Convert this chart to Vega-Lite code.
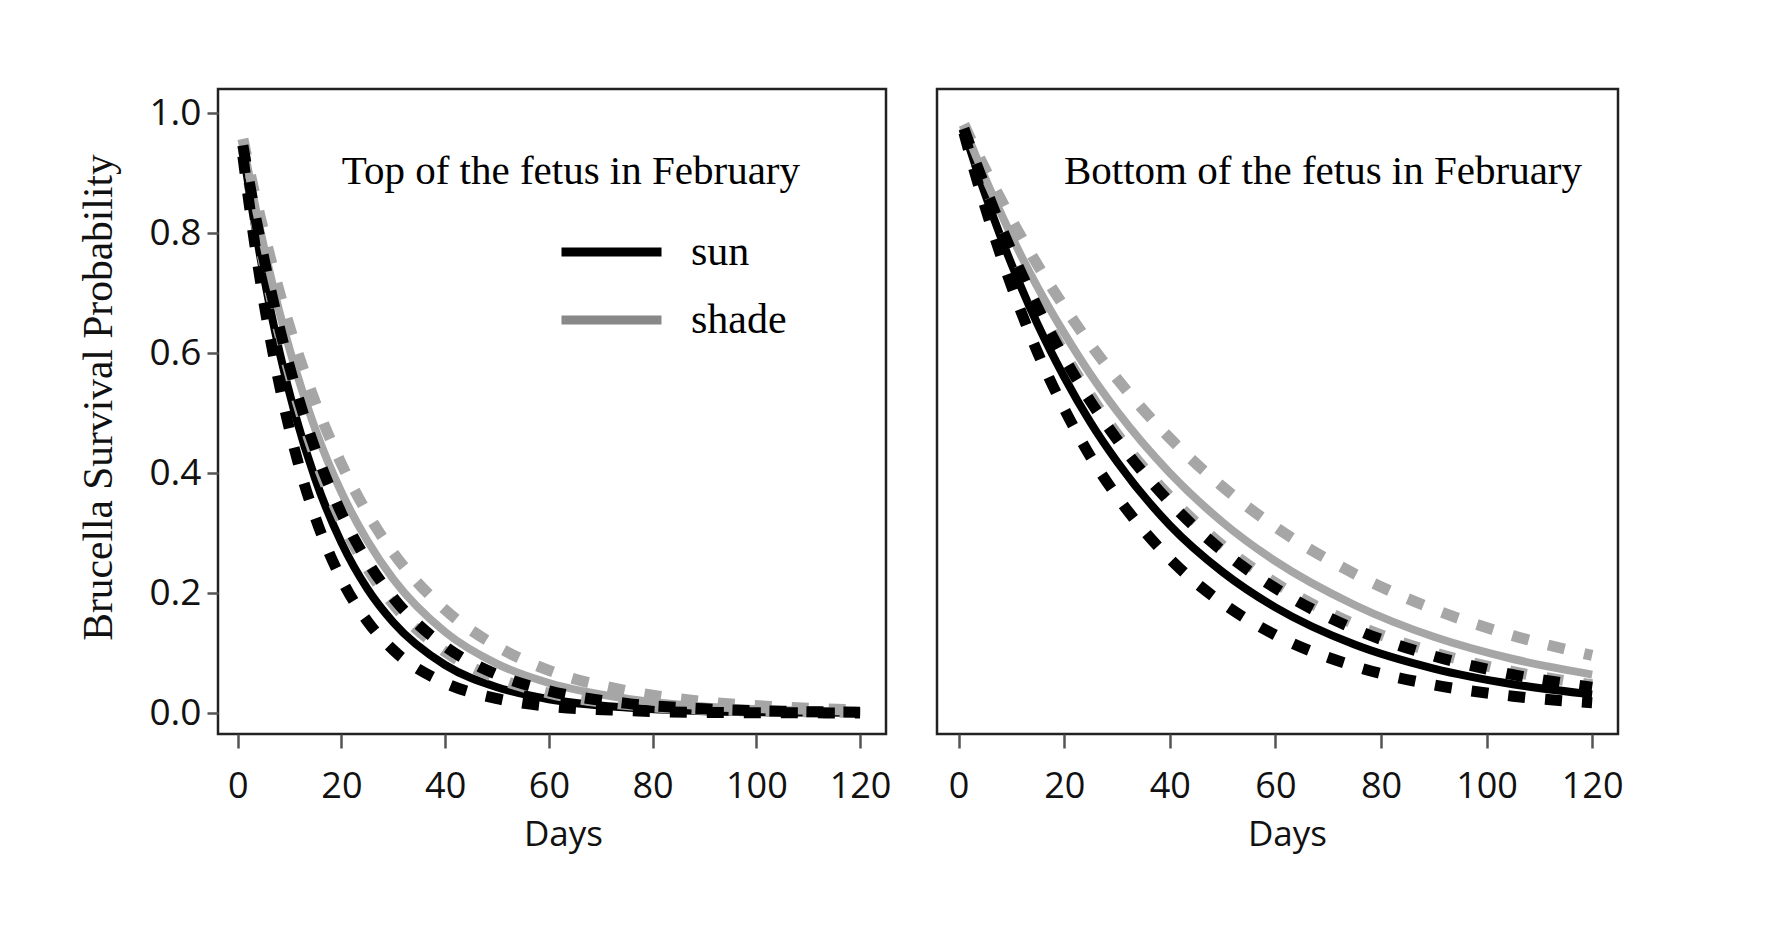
{
  "$schema": "https://vega.github.io/schema/vega-lite/v6.json",
  "background": "white",
  "padding": {"left": 77, "top": 87, "right": 10, "bottom": 10},
  "spacing": 42,
  "config": {
    "view": {"stroke": "#222", "strokeWidth": 2.5},
    "axis": {
      "grid": false, "domain": false,
      "labelFont": "Open Sans", "labelFontSize": 36, "labelColor": "#111",
      "tickColor": "#555", "tickWidth": 2.5,
      "titleFont": "Open Sans", "titleFontSize": 35, "titleFontWeight": "normal", "titleColor": "#111"
    },
    "title": {"font": "Liberation Serif", "fontSize": 41, "fontWeight": "normal", "color": "#000"}
  },
  "datasets": {
    "curves": [
      {"p":"Top","g":"sun","s":"est","d":1,"v":0.939},{"p":"Top","g":"sun","s":"est","d":3,"v":0.828},{"p":"Top","g":"sun","s":"est","d":5,"v":0.730},{"p":"Top","g":"sun","s":"est","d":8,"v":0.604},{"p":"Top","g":"sun","s":"est","d":11,"v":0.500},{"p":"Top","g":"sun","s":"est","d":15,"v":0.389},{"p":"Top","g":"sun","s":"est","d":20,"v":0.284},{"p":"Top","g":"sun","s":"est","d":25,"v":0.207},{"p":"Top","g":"sun","s":"est","d":30,"v":0.151},{"p":"Top","g":"sun","s":"est","d":40,"v":0.080},{"p":"Top","g":"sun","s":"est","d":50,"v":0.043},{"p":"Top","g":"sun","s":"est","d":60,"v":0.023},{"p":"Top","g":"sun","s":"est","d":75,"v":0.009},{"p":"Top","g":"sun","s":"est","d":90,"v":0.003},{"p":"Top","g":"sun","s":"est","d":105,"v":0.001},{"p":"Top","g":"sun","s":"est","d":120,"v":0.0005},
      {"p":"Top","g":"sun","s":"lo","d":1,"v":0.928},{"p":"Top","g":"sun","s":"lo","d":3,"v":0.799},{"p":"Top","g":"sun","s":"lo","d":5,"v":0.687},{"p":"Top","g":"sun","s":"lo","d":8,"v":0.549},{"p":"Top","g":"sun","s":"lo","d":11,"v":0.438},{"p":"Top","g":"sun","s":"lo","d":15,"v":0.325},{"p":"Top","g":"sun","s":"lo","d":20,"v":0.223},{"p":"Top","g":"sun","s":"lo","d":25,"v":0.153},{"p":"Top","g":"sun","s":"lo","d":30,"v":0.105},{"p":"Top","g":"sun","s":"lo","d":40,"v":0.050},{"p":"Top","g":"sun","s":"lo","d":50,"v":0.024},{"p":"Top","g":"sun","s":"lo","d":60,"v":0.011},{"p":"Top","g":"sun","s":"lo","d":75,"v":0.004},{"p":"Top","g":"sun","s":"lo","d":90,"v":0.001},{"p":"Top","g":"sun","s":"lo","d":105,"v":0.0004},{"p":"Top","g":"sun","s":"lo","d":120,"v":0.0001},
      {"p":"Top","g":"sun","s":"hi","d":1,"v":0.946},{"p":"Top","g":"sun","s":"hi","d":3,"v":0.848},{"p":"Top","g":"sun","s":"hi","d":5,"v":0.760},{"p":"Top","g":"sun","s":"hi","d":8,"v":0.644},{"p":"Top","g":"sun","s":"hi","d":11,"v":0.546},{"p":"Top","g":"sun","s":"hi","d":15,"v":0.438},{"p":"Top","g":"sun","s":"hi","d":20,"v":0.333},{"p":"Top","g":"sun","s":"hi","d":25,"v":0.253},{"p":"Top","g":"sun","s":"hi","d":30,"v":0.192},{"p":"Top","g":"sun","s":"hi","d":40,"v":0.111},{"p":"Top","g":"sun","s":"hi","d":50,"v":0.064},{"p":"Top","g":"sun","s":"hi","d":60,"v":0.037},{"p":"Top","g":"sun","s":"hi","d":75,"v":0.016},{"p":"Top","g":"sun","s":"hi","d":90,"v":0.007},{"p":"Top","g":"sun","s":"hi","d":105,"v":0.003},{"p":"Top","g":"sun","s":"hi","d":120,"v":0.0014},
      {"p":"Top","g":"shade","s":"lo","d":1,"v":0.945},{"p":"Top","g":"shade","s":"lo","d":3,"v":0.843},{"p":"Top","g":"shade","s":"lo","d":5,"v":0.752},{"p":"Top","g":"shade","s":"lo","d":8,"v":0.634},{"p":"Top","g":"shade","s":"lo","d":11,"v":0.534},{"p":"Top","g":"shade","s":"lo","d":15,"v":0.425},{"p":"Top","g":"shade","s":"lo","d":20,"v":0.320},{"p":"Top","g":"shade","s":"lo","d":25,"v":0.241},{"p":"Top","g":"shade","s":"lo","d":30,"v":0.181},{"p":"Top","g":"shade","s":"lo","d":40,"v":0.102},{"p":"Top","g":"shade","s":"lo","d":50,"v":0.058},{"p":"Top","g":"shade","s":"lo","d":60,"v":0.033},{"p":"Top","g":"shade","s":"lo","d":75,"v":0.014},{"p":"Top","g":"shade","s":"lo","d":90,"v":0.006},{"p":"Top","g":"shade","s":"lo","d":105,"v":0.0025},{"p":"Top","g":"shade","s":"lo","d":120,"v":0.0011},
      {"p":"Top","g":"shade","s":"est","d":1,"v":0.951},{"p":"Top","g":"shade","s":"est","d":3,"v":0.861},{"p":"Top","g":"shade","s":"est","d":5,"v":0.779},{"p":"Top","g":"shade","s":"est","d":8,"v":0.670},{"p":"Top","g":"shade","s":"est","d":11,"v":0.577},{"p":"Top","g":"shade","s":"est","d":15,"v":0.472},{"p":"Top","g":"shade","s":"est","d":20,"v":0.368},{"p":"Top","g":"shade","s":"est","d":25,"v":0.287},{"p":"Top","g":"shade","s":"est","d":30,"v":0.223},{"p":"Top","g":"shade","s":"est","d":40,"v":0.135},{"p":"Top","g":"shade","s":"est","d":50,"v":0.082},{"p":"Top","g":"shade","s":"est","d":60,"v":0.050},{"p":"Top","g":"shade","s":"est","d":75,"v":0.024},{"p":"Top","g":"shade","s":"est","d":90,"v":0.011},{"p":"Top","g":"shade","s":"est","d":105,"v":0.005},{"p":"Top","g":"shade","s":"est","d":120,"v":0.0025},
      {"p":"Top","g":"shade","s":"hi","d":1,"v":0.957},{"p":"Top","g":"shade","s":"hi","d":3,"v":0.876},{"p":"Top","g":"shade","s":"hi","d":5,"v":0.803},{"p":"Top","g":"shade","s":"hi","d":8,"v":0.703},{"p":"Top","g":"shade","s":"hi","d":11,"v":0.616},{"p":"Top","g":"shade","s":"hi","d":15,"v":0.517},{"p":"Top","g":"shade","s":"hi","d":20,"v":0.415},{"p":"Top","g":"shade","s":"hi","d":25,"v":0.333},{"p":"Top","g":"shade","s":"hi","d":30,"v":0.267},{"p":"Top","g":"shade","s":"hi","d":40,"v":0.172},{"p":"Top","g":"shade","s":"hi","d":50,"v":0.111},{"p":"Top","g":"shade","s":"hi","d":60,"v":0.071},{"p":"Top","g":"shade","s":"hi","d":75,"v":0.037},{"p":"Top","g":"shade","s":"hi","d":90,"v":0.019},{"p":"Top","g":"shade","s":"hi","d":105,"v":0.010},{"p":"Top","g":"shade","s":"hi","d":120,"v":0.005},
      {"p":"Bottom","g":"sun","s":"est","d":1,"v":0.971},{"p":"Bottom","g":"sun","s":"est","d":3,"v":0.917},{"p":"Bottom","g":"sun","s":"est","d":5,"v":0.865},{"p":"Bottom","g":"sun","s":"est","d":8,"v":0.793},{"p":"Bottom","g":"sun","s":"est","d":11,"v":0.727},{"p":"Bottom","g":"sun","s":"est","d":15,"v":0.647},{"p":"Bottom","g":"sun","s":"est","d":20,"v":0.560},{"p":"Bottom","g":"sun","s":"est","d":25,"v":0.484},{"p":"Bottom","g":"sun","s":"est","d":30,"v":0.419},{"p":"Bottom","g":"sun","s":"est","d":40,"v":0.313},{"p":"Bottom","g":"sun","s":"est","d":50,"v":0.235},{"p":"Bottom","g":"sun","s":"est","d":60,"v":0.176},{"p":"Bottom","g":"sun","s":"est","d":75,"v":0.114},{"p":"Bottom","g":"sun","s":"est","d":90,"v":0.074},{"p":"Bottom","g":"sun","s":"est","d":105,"v":0.048},{"p":"Bottom","g":"sun","s":"est","d":120,"v":0.031},
      {"p":"Bottom","g":"sun","s":"lo","d":1,"v":0.967},{"p":"Bottom","g":"sun","s":"lo","d":3,"v":0.903},{"p":"Bottom","g":"sun","s":"lo","d":5,"v":0.844},{"p":"Bottom","g":"sun","s":"lo","d":8,"v":0.762},{"p":"Bottom","g":"sun","s":"lo","d":11,"v":0.688},{"p":"Bottom","g":"sun","s":"lo","d":15,"v":0.600},{"p":"Bottom","g":"sun","s":"lo","d":20,"v":0.507},{"p":"Bottom","g":"sun","s":"lo","d":25,"v":0.427},{"p":"Bottom","g":"sun","s":"lo","d":30,"v":0.361},{"p":"Bottom","g":"sun","s":"lo","d":40,"v":0.257},{"p":"Bottom","g":"sun","s":"lo","d":50,"v":0.183},{"p":"Bottom","g":"sun","s":"lo","d":60,"v":0.130},{"p":"Bottom","g":"sun","s":"lo","d":75,"v":0.078},{"p":"Bottom","g":"sun","s":"lo","d":90,"v":0.047},{"p":"Bottom","g":"sun","s":"lo","d":105,"v":0.028},{"p":"Bottom","g":"sun","s":"lo","d":120,"v":0.017},
      {"p":"Bottom","g":"sun","s":"hi","d":1,"v":0.974},{"p":"Bottom","g":"sun","s":"hi","d":3,"v":0.924},{"p":"Bottom","g":"sun","s":"hi","d":5,"v":0.877},{"p":"Bottom","g":"sun","s":"hi","d":8,"v":0.811},{"p":"Bottom","g":"sun","s":"hi","d":11,"v":0.750},{"p":"Bottom","g":"sun","s":"hi","d":15,"v":0.675},{"p":"Bottom","g":"sun","s":"hi","d":20,"v":0.592},{"p":"Bottom","g":"sun","s":"hi","d":25,"v":0.519},{"p":"Bottom","g":"sun","s":"hi","d":30,"v":0.456},{"p":"Bottom","g":"sun","s":"hi","d":40,"v":0.351},{"p":"Bottom","g":"sun","s":"hi","d":50,"v":0.270},{"p":"Bottom","g":"sun","s":"hi","d":60,"v":0.208},{"p":"Bottom","g":"sun","s":"hi","d":75,"v":0.140},{"p":"Bottom","g":"sun","s":"hi","d":90,"v":0.095},{"p":"Bottom","g":"sun","s":"hi","d":105,"v":0.064},{"p":"Bottom","g":"sun","s":"hi","d":120,"v":0.043},
      {"p":"Bottom","g":"shade","s":"lo","d":1,"v":0.975},{"p":"Bottom","g":"shade","s":"lo","d":3,"v":0.926},{"p":"Bottom","g":"shade","s":"lo","d":5,"v":0.880},{"p":"Bottom","g":"shade","s":"lo","d":8,"v":0.815},{"p":"Bottom","g":"shade","s":"lo","d":11,"v":0.755},{"p":"Bottom","g":"shade","s":"lo","d":15,"v":0.682},{"p":"Bottom","g":"shade","s":"lo","d":20,"v":0.600},{"p":"Bottom","g":"shade","s":"lo","d":25,"v":0.529},{"p":"Bottom","g":"shade","s":"lo","d":30,"v":0.465},{"p":"Bottom","g":"shade","s":"lo","d":40,"v":0.361},{"p":"Bottom","g":"shade","s":"lo","d":50,"v":0.279},{"p":"Bottom","g":"shade","s":"lo","d":60,"v":0.217},{"p":"Bottom","g":"shade","s":"lo","d":75,"v":0.148},{"p":"Bottom","g":"shade","s":"lo","d":90,"v":0.101},{"p":"Bottom","g":"shade","s":"lo","d":105,"v":0.069},{"p":"Bottom","g":"shade","s":"lo","d":120,"v":0.047},
      {"p":"Bottom","g":"shade","s":"est","d":1,"v":0.977},{"p":"Bottom","g":"shade","s":"est","d":3,"v":0.934},{"p":"Bottom","g":"shade","s":"est","d":5,"v":0.892},{"p":"Bottom","g":"shade","s":"est","d":8,"v":0.833},{"p":"Bottom","g":"shade","s":"est","d":11,"v":0.777},{"p":"Bottom","g":"shade","s":"est","d":15,"v":0.709},{"p":"Bottom","g":"shade","s":"est","d":20,"v":0.633},{"p":"Bottom","g":"shade","s":"est","d":25,"v":0.564},{"p":"Bottom","g":"shade","s":"est","d":30,"v":0.503},{"p":"Bottom","g":"shade","s":"est","d":40,"v":0.400},{"p":"Bottom","g":"shade","s":"est","d":50,"v":0.318},{"p":"Bottom","g":"shade","s":"est","d":60,"v":0.253},{"p":"Bottom","g":"shade","s":"est","d":75,"v":0.180},{"p":"Bottom","g":"shade","s":"est","d":90,"v":0.127},{"p":"Bottom","g":"shade","s":"est","d":105,"v":0.090},{"p":"Bottom","g":"shade","s":"est","d":120,"v":0.064},
      {"p":"Bottom","g":"shade","s":"hi","d":1,"v":0.981},{"p":"Bottom","g":"shade","s":"hi","d":3,"v":0.943},{"p":"Bottom","g":"shade","s":"hi","d":5,"v":0.907},{"p":"Bottom","g":"shade","s":"hi","d":8,"v":0.856},{"p":"Bottom","g":"shade","s":"hi","d":11,"v":0.807},{"p":"Bottom","g":"shade","s":"hi","d":15,"v":0.746},{"p":"Bottom","g":"shade","s":"hi","d":20,"v":0.677},{"p":"Bottom","g":"shade","s":"hi","d":25,"v":0.614},{"p":"Bottom","g":"shade","s":"hi","d":30,"v":0.557},{"p":"Bottom","g":"shade","s":"hi","d":40,"v":0.458},{"p":"Bottom","g":"shade","s":"hi","d":50,"v":0.377},{"p":"Bottom","g":"shade","s":"hi","d":60,"v":0.310},{"p":"Bottom","g":"shade","s":"hi","d":75,"v":0.232},{"p":"Bottom","g":"shade","s":"hi","d":90,"v":0.173},{"p":"Bottom","g":"shade","s":"hi","d":105,"v":0.129},{"p":"Bottom","g":"shade","s":"hi","d":120,"v":0.096}
    ]
  },
  "hconcat": [
    {
      "width": 668, "height": 645,
      "title": {"text": "Top of the fetus in February", "anchor": "end", "frame": "group", "dx": -86, "offset": -136, "baseline": "alphabetic"},
      "data": {"name": "curves"},
      "transform": [{"filter": "datum.p == 'Top'"}],
      "encoding": {
        "x": {"field": "d", "type": "quantitative", "scale": {"domain": [-3.8, 125], "nice": false, "zero": false},
              "axis": {"values": [0, 20, 40, 60, 80, 100, 120], "title": "Days", "tickSize": 14, "labelPadding": 21, "titlePadding": 13, "titleX": 345}},
        "y": {"field": "v", "type": "quantitative", "scale": {"domain": [-0.035, 1.04], "nice": false, "zero": false},
              "axis": {"values": [0, 0.2, 0.4, 0.6, 0.8, 1.0], "format": ".1f", "title": "Brucella Survival Probability", "titleFont": "Liberation Serif", "titleFontSize": 41.5, "labelFontSize": 37, "tickSize": 11, "labelPadding": 6, "titlePadding": 28, "titleY": 308}},
        "detail": {"field": "s"}
      },
      "layer": [
        {
          "mark": {"type": "line", "strokeOpacity": 0, "interpolate": "monotone"},
          "encoding": {
            "stroke": {"field": "g", "type": "nominal", "scale": {"domain": ["sun", "shade"], "range": ["#000000", "#888888"]},
              "legend": {"orient": "none", "legendX": 339, "legendY": 143, "title": null, "symbolType": "stroke", "symbolSize": 10000, "symbolStrokeWidth": 9, "symbolOpacity": 1, "clipHeight": 40, "rowPadding": 26, "labelOffset": 25, "labelFont": "Liberation Serif", "labelFontSize": 42, "labelColor": "#000"}}
          }
        },
        {"transform": [{"filter": "datum.g == 'sun' && datum.s == 'est'"}], "mark": {"type": "line", "color": "#000000", "strokeWidth": 8, "interpolate": "monotone"}},
        {"transform": [{"filter": "datum.g == 'shade' && datum.s == 'est'"}], "mark": {"type": "line", "color": "#a6a6a6", "strokeWidth": 8, "interpolate": "monotone"}},
        {"transform": [{"filter": "datum.g == 'shade' && datum.s != 'est'"}], "mark": {"type": "line", "color": "#a6a6a6", "strokeWidth": 11, "strokeDash": [17, 20], "strokeCap": "butt", "interpolate": "monotone"}},
        {"transform": [{"filter": "datum.g == 'sun' && datum.s != 'est'"}], "mark": {"type": "line", "color": "#000000", "strokeWidth": 11, "strokeDash": [17, 20], "strokeCap": "butt", "interpolate": "monotone"}}
      ]
    },
    {
      "width": 681, "height": 645,
      "title": {"text": "Bottom of the fetus in February", "anchor": "end", "frame": "group", "dx": -36, "offset": -136, "baseline": "alphabetic"},
      "data": {"name": "curves"},
      "transform": [{"filter": "datum.p == 'Bottom'"}],
      "encoding": {
        "x": {"field": "d", "type": "quantitative", "scale": {"domain": [-4.1, 124.9], "nice": false, "zero": false},
              "axis": {"values": [0, 20, 40, 60, 80, 100, 120], "title": "Days", "tickSize": 14, "labelPadding": 21, "titlePadding": 13, "titleX": 350}},
        "y": {"field": "v", "type": "quantitative", "scale": {"domain": [-0.035, 1.04], "nice": false, "zero": false}, "axis": null},
        "detail": {"field": "s"}
      },
      "layer": [
        {"transform": [{"filter": "datum.g == 'sun' && datum.s == 'est'"}], "mark": {"type": "line", "color": "#000000", "strokeWidth": 8, "interpolate": "monotone"}},
        {"transform": [{"filter": "datum.g == 'shade' && datum.s == 'est'"}], "mark": {"type": "line", "color": "#a6a6a6", "strokeWidth": 8, "interpolate": "monotone"}},
        {"transform": [{"filter": "datum.g == 'shade' && datum.s != 'est'"}], "mark": {"type": "line", "color": "#a6a6a6", "strokeWidth": 11, "strokeDash": [17, 20], "strokeCap": "butt", "interpolate": "monotone"}},
        {"transform": [{"filter": "datum.g == 'sun' && datum.s != 'est'"}], "mark": {"type": "line", "color": "#000000", "strokeWidth": 11, "strokeDash": [17, 20], "strokeCap": "butt", "interpolate": "monotone"}}
      ]
    }
  ]
}
